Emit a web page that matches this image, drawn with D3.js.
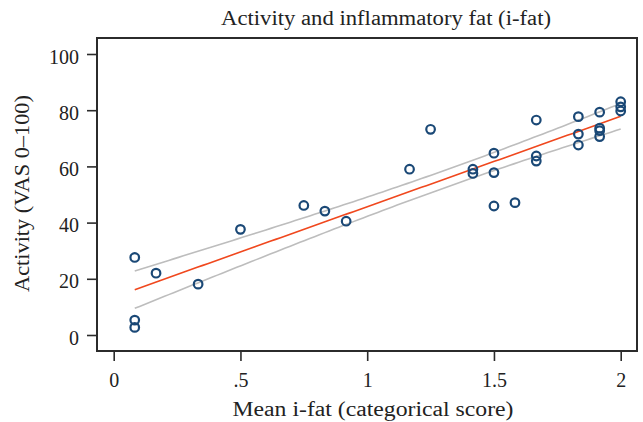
<!DOCTYPE html>
<html>
<head>
<meta charset="utf-8">
<script src="https://cdn.jsdelivr.net/npm/d3@7"></script>
<style>
  body { margin: 0; background: #fff; }
  text { font-family: "Liberation Serif", "DejaVu Serif", serif; fill: #222; }
</style>
</head>
<body>
<div id="chart"></div>
<script>
// Mean i-fat score (x) and activity VAS (y)
const ifat = [
  0.083, 0.083, 0.083, 0.167, 0.333, 0.5, 0.75, 0.833, 0.917,
  1.167, 1.25, 1.417, 1.417, 1.5, 1.5, 1.5, 1.583,
  1.667, 1.667, 1.667, 1.833, 1.833, 1.833,
  1.917, 1.917, 1.917, 1.917, 2, 2, 2
];
const activity = [
  27.6, 5.3, 2.7, 22.0, 18.1, 37.6, 46.1, 44.1, 40.5,
  59.0, 73.2, 59.0, 57.5, 64.7, 57.8, 45.9, 47.1,
  76.5, 63.7, 61.9, 77.7, 71.5, 67.6,
  79.3, 73.6, 72.7, 70.6, 83.0, 81.2, 79.7
];
const xTicks = [0, 0.5, 1, 1.5, 2];
const xTickLabels = ['0', '.5', '1', '1.5', '2'];
const yTicks = [0, 20, 40, 60, 80, 100];

const W = 643, H = 422;
const frame = { left: 97, top: 38, right: 637, bottom: 351 };

const svg = d3.select('#chart').append('svg')
  .attr('width', W).attr('height', H);

const x = d3.scaleLinear().domain([0, 2]).range([113.7, 620.7]);
const y = d3.scaleLinear().domain([0, 100]).range([335, 54]);

// plot frame
svg.append('rect')
  .attr('x', frame.left).attr('y', frame.top)
  .attr('width', frame.right - frame.left)
  .attr('height', frame.bottom - frame.top)
  .attr('fill', 'none').attr('stroke', '#2b2b2b').attr('stroke-width', 2);

// axes (ticks sit outside the frame)
const xAxis = svg.append('g')
  .attr('transform', `translate(0, ${frame.bottom})`)
  .call(d3.axisBottom(x).tickValues(xTicks).tickSize(10).tickPadding(12)
    .tickFormat((d, i) => xTickLabels[i]));
const yAxis = svg.append('g')
  .attr('transform', `translate(${frame.left}, 0)`)
  .call(d3.axisLeft(y).tickValues(yTicks).tickSize(10).tickPadding(8));

[xAxis, yAxis].forEach(a => {
  a.select('.domain').remove();
  a.selectAll('.tick line').attr('stroke', '#2b2b2b').attr('stroke-width', 1.6);
  a.selectAll('.tick text').style('font-size', '20px').attr('fill', '#222');
});
yAxis.selectAll('.tick text').attr('dy', '0.45em');

// linear fit with 95% CI of the mean prediction
const n = ifat.length;
const mx = d3.mean(ifat), my = d3.mean(activity);
const sxx = d3.sum(ifat, v => (v - mx) ** 2);
const sxy = d3.sum(ifat.map((v, i) => (v - mx) * (activity[i] - my)));
const slope = sxy / sxx, intercept = my - slope * mx;
const sse = d3.sum(ifat.map((v, i) => (activity[i] - intercept - slope * v) ** 2));
const s = Math.sqrt(sse / (n - 2));
const tcrit = 2.048; // t(0.975, 28)
const [xmin, xmax] = d3.extent(ifat);
const grid = d3.range(0, 101).map(k => xmin + (xmax - xmin) * k / 100);
const band = grid.map(v => {
  const fit = intercept + slope * v;
  const se = s * Math.sqrt(1 / n + (v - mx) ** 2 / sxx);
  return { x: v, fit, lo: fit - tcrit * se, hi: fit + tcrit * se };
});

const line = key => d3.line().x(d => x(d.x)).y(d => y(d[key]));

svg.append('path').datum(band).attr('d', line('hi'))
  .attr('fill', 'none').attr('stroke', '#bdbdbd').attr('stroke-width', 1.6);
svg.append('path').datum(band).attr('d', line('lo'))
  .attr('fill', 'none').attr('stroke', '#bdbdbd').attr('stroke-width', 1.6);
svg.append('path').datum(band).attr('d', line('fit'))
  .attr('fill', 'none').attr('stroke', '#f0481e').attr('stroke-width', 1.6);

// observations
svg.append('g').selectAll('circle')
  .data(ifat.map((v, i) => [v, activity[i]]))
  .enter().append('circle')
  .attr('cx', d => x(d[0])).attr('cy', d => y(d[1]))
  .attr('r', 4.3)
  .attr('fill', 'none').attr('stroke', '#1a4876').attr('stroke-width', 2.2);

// titles
svg.append('text')
  .attr('x', 386).attr('y', 25).attr('text-anchor', 'middle')
  .attr('textLength', 330).attr('lengthAdjust', 'spacingAndGlyphs')
  .style('font-size', '20px')
  .text('Activity and inflammatory fat (i-fat)');
svg.append('text')
  .attr('x', 373).attr('y', 416).attr('text-anchor', 'middle')
  .attr('textLength', 281).attr('lengthAdjust', 'spacingAndGlyphs')
  .style('font-size', '20px')
  .text('Mean i-fat (categorical score)');
svg.append('text')
  .attr('transform', 'translate(29, 193.5) rotate(-90)')
  .attr('text-anchor', 'middle')
  .attr('textLength', 197).attr('lengthAdjust', 'spacingAndGlyphs')
  .style('font-size', '20px')
  .text('Activity (VAS 0–100)');
</script>
</body>
</html>
